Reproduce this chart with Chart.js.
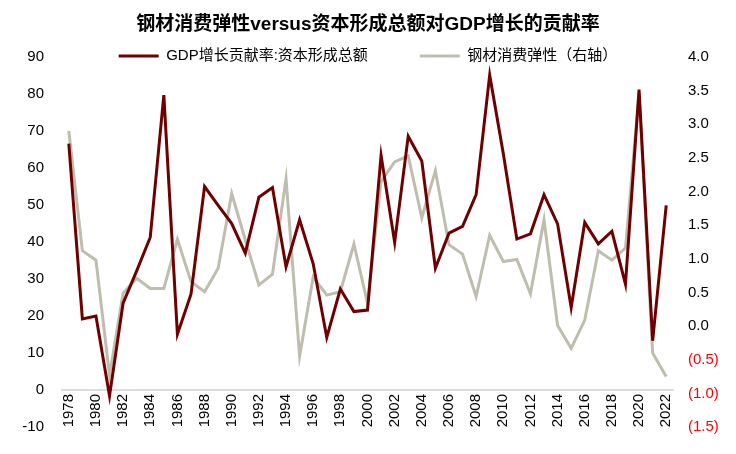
<!DOCTYPE html>
<html>
<head>
<meta charset="utf-8">
<script src="https://cdn.jsdelivr.net/npm/chart.js@4"></script>
<style>
  html, body { margin: 0; padding: 0; background: #fff; }
</style>
</head>
<body>
<canvas id="steel" width="736" height="454"></canvas>
<script>
var years = [];
for (var y = 1978; y <= 2022; y++) years.push(String(y));

// GDP增长贡献率:资本形成总额 (%), left axis
var capitalShare = [
  66.6, 19.2, 20.0, -1.6, 23.5, 32.2, 41.3, 79.7, 15.1, 25.9,
  55.0, 49.9, 45.0, 37.0, 52.1, 54.7, 33.3, 46.0, 34.1, 14.2,
  27.3, 21.2, 21.6, 63.4, 39.9, 68.6, 61.9, 32.9, 42.4, 44.2,
  52.8, 85.1, 63.9, 40.8, 42.2, 52.8, 44.9, 22.3, 45.3, 39.5,
  42.9, 28.6, 81.2, 13.3, 49.9
];

// 钢材消费弹性, right axis
var steelElasticity = [
  2.90, 1.12, 0.98, -0.73, 0.49, 0.71, 0.56, 0.56, 1.29, 0.66,
  0.51, 0.86, 1.97, 1.28, 0.61, 0.77, 2.19, -0.45, 0.73, 0.46,
  0.51, 1.22, 0.34, 2.15, 2.44, 2.53, 1.61, 2.31, 1.21, 1.07,
  0.44, 1.35, 0.96, 0.99, 0.48, 1.58, 0.01, -0.33, 0.09, 1.12,
  0.98, 1.16, 3.46, -0.40, -0.75
];

var fontFamily = "'Liberation Sans', Arial, 'Noto Sans CJK SC', sans-serif";

// legend sits on the same line as the top tick labels
var legendPlace = {
  id: "legendPlace",
  beforeLayout: function (chart) {
    var lg = chart.legend;
    if (lg && !lg._patched) {
      var fit = lg.fit;
      lg.fit = function () {
        fit.call(this);
        this.height = 21.2;
      };
      lg._patched = true;
    }
  },
  afterLayout: function (chart) {
    var lg = chart.legend;
    lg.top = 56 - 52 - 7.5;
    lg.bottom = lg.top + 90;
  }
};

new Chart(document.getElementById("steel"), {
  type: "line",
  data: {
    labels: years,
    datasets: [
      {
        label: "GDP增长贡献率:资本形成总额",
        data: capitalShare,
        yAxisID: "y",
        borderColor: "#6E0000",
        backgroundColor: "#6E0000",
        borderWidth: 3,
        pointRadius: 0,
        tension: 0
      },
      {
        label: "钢材消费弹性（右轴）",
        data: steelElasticity,
        yAxisID: "y1",
        borderColor: "#BFBDAE",
        backgroundColor: "#BFBDAE",
        borderWidth: 3,
        pointRadius: 0,
        tension: 0
      }
    ]
  },
  options: {
    responsive: false,
    animation: false,
    devicePixelRatio: 1,
    layout: { padding: 0 },
    plugins: {
      title: {
        display: true,
        text: "钢材消费弹性versus资本形成总额对GDP增长的贡献率",
        color: "#000",
        font: { family: fontFamily, size: 19, weight: "bold" },
        padding: { top: 13, bottom: 0 }
      },
      legend: {
        display: true,
        position: "top",
        labels: {
          color: "#000",
          font: { family: fontFamily, size: 15 },
          usePointStyle: true,
          pointStyle: "line",
          pointStyleWidth: 40,
          padding: 52
        }
      },
      tooltip: { enabled: false }
    },
    scales: {
      x: {
        position: { y: 0 },
        offset: true,
        grid: { display: false, drawTicks: false },
        border: { display: true, color: "#DCDCDC", width: 2 },
        ticks: {
          autoSkip: false,
          minRotation: 90,
          maxRotation: 90,
          padding: 4,
          color: "#000",
          font: { family: fontFamily, size: 15 },
          callback: function (val, i) {
            return i % 2 === 0 ? years[i] : "";
          }
        },
        afterFit: function (scale) { scale.height = 27; }
      },
      y: {
        position: "left",
        min: -10,
        max: 90,
        grid: { display: false, drawTicks: false },
        border: { display: false },
        ticks: {
          stepSize: 10,
          padding: 18,
          color: "#000",
          font: { family: fontFamily, size: 15 }
        },
        afterFit: function (scale) { scale.width = 62; }
      },
      y1: {
        position: "right",
        min: -1.5,
        max: 4.0,
        grid: { display: false, drawTicks: false },
        border: { display: false },
        ticks: {
          stepSize: 0.5,
          padding: 15,
          font: { family: fontFamily, size: 15 },
          color: function (ctx) {
            return ctx.tick && ctx.tick.value < 0 ? "#FF0000" : "#000";
          },
          callback: function (v) {
            return v < 0 ? "(" + Math.abs(v).toFixed(1) + ")" : v.toFixed(1);
          }
        },
        afterFit: function (scale) { scale.width = 63; }
      }
    }
  },
  plugins: [legendPlace]
});
</script>
</body>
</html>
